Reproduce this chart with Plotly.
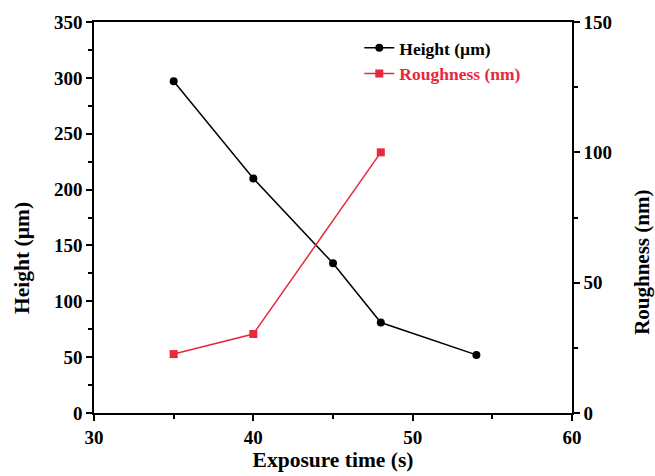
import plotly.graph_objects as go

exposure_height = [35, 40, 45, 48, 54]
height_um = [297, 210, 134, 81, 52]
exposure_rough = [35, 40, 48]
roughness_nm = [22.6, 30.3, 100]

FONT = "Liberation Serif"
RED = "#e8283c"

fig = go.Figure()
fig.add_trace(go.Scatter(x=exposure_height, y=height_um, mode="lines+markers",
                         name="<b>Height (µm)</b>",
                         line=dict(color="black", width=1.5),
                         marker=dict(symbol="circle", size=8, color="black")))
fig.add_trace(go.Scatter(x=exposure_rough, y=roughness_nm, mode="lines+markers",
                         name=f"<b><span style='color:{RED}'>Roughness (nm)</span></b>", yaxis="y2",
                         line=dict(color=RED, width=1.5),
                         marker=dict(symbol="square", size=8, color=RED)))

axis_common = dict(showline=True, linecolor="black", linewidth=1.5, ticks="outside",
                   ticklen=6, tickwidth=1.5, tickcolor="black", showgrid=False, zeroline=False,
                   automargin=False,
                   tickfont=dict(family=FONT, size=19, color="black", weight="bold"))
minor_common = dict(ticklen=4, tickwidth=1.5, tickcolor="black", ticks="outside")

fig.update_layout(
    width=655, height=476,
    margin=dict(l=94, r=83, t=22, b=63),
    plot_bgcolor="white", paper_bgcolor="white",
    font=dict(family=FONT, color="black"),
    xaxis=dict(range=[30, 60], tickvals=[30, 40, 50, 60], mirror=True,
               title=dict(text="<b>Exposure time (s)</b>", font=dict(family=FONT, size=21.5), standoff=5),
               minor=dict(tickvals=[35, 45, 55], **minor_common),
               **axis_common),
    yaxis=dict(range=[0, 350], tickvals=list(range(0, 351, 50)),
               minor=dict(tickvals=list(range(25, 350, 50)), **minor_common),
               **axis_common),
    yaxis2=dict(range=[0, 150], tickvals=[0, 50, 100, 150], overlaying="y", side="right",
                minor=dict(tickvals=[25, 75, 125], **minor_common),
                **axis_common),
    legend=dict(x=0.555, y=0.98, xanchor="left", yanchor="top", bgcolor="rgba(0,0,0,0)",
                font=dict(family=FONT, size=17.5), tracegroupgap=0, itemwidth=30),
    annotations=[
        dict(text="<b>Height (µm)</b>", xref="paper", yref="paper", x=-0.151, y=0.396,
             textangle=-90, showarrow=False, font=dict(family=FONT, size=21.5, color="black"),
             xanchor="center", yanchor="middle"),
        dict(text="<b>Roughness (nm)</b>", xref="paper", yref="paper", x=1.146, y=0.386,
             textangle=-90, showarrow=False, font=dict(family=FONT, size=21, color="black"),
             xanchor="center", yanchor="middle"),
    ],
)

fig.write_html("out.html")
